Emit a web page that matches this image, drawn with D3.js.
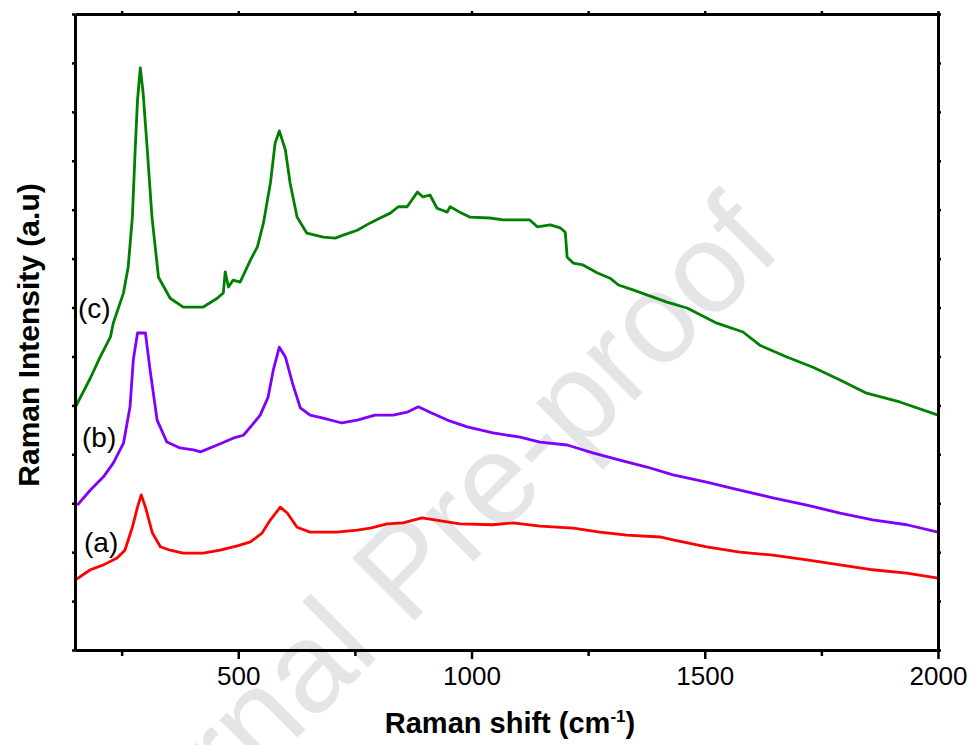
<!DOCTYPE html>
<html>
<head>
<meta charset="utf-8">
<script src="https://cdn.jsdelivr.net/npm/d3@7"></script>
<style>
  body { margin: 0; background: #fff; }
  text { font-family: "Liberation Sans", Arial, sans-serif; }
</style>
</head>
<body>
<div class="graphic"></div>
<script>
// Raman shift (cm-1) and intensity (a.u.)
const shiftA = [150,183,211,240,257,273,284,292,301,316,333,354,382,425,461,498,526,551,569,590,605,626,654,711,755,783,819,853,894,948,975,1046,1089,1147,1218,1275,1333,1404,1432,1504,1575,1646,1719,1790,1860,1933,2000];
const intA   = [143,164,174,188,204,251,292,317,292,239,211,204,198,198,204,213,221,239,266,292,280,251,241,241,245,249,258,260,270,262,258,256,260,253,249,241,235,231,225,211,200,194,184,174,164,157,147];

const shiftB = [155,183,211,232,254,268,275,284,301,311,326,347,375,404,419,455,489,511,530,547,564,575,588,601,616,633,654,682,722,755,793,832,862,886,911,948,991,1046,1104,1147,1205,1260,1318,1376,1432,1504,1575,1646,1719,1790,1860,1933,2000];
const intB   = [296,327,354,382,423,497,593,648,648,572,470,425,413,409,405,419,433,439,460,480,517,572,619,599,546,495,480,474,464,470,480,480,486,497,486,470,456,444,435,425,419,403,388,374,358,343,327,311,296,280,266,256,241];

const shiftC = [150,183,204,226,232,254,264,273,279,284,290,296,305,315,329,354,382,425,455,468,472,479,489,504,526,541,554,569,579,588,601,611,626,647,682,708,725,755,783,804,826,843,862,884,896,911,926,948,954,975,996,1039,1068,1104,1125,1141,1169,1190,1201,1205,1218,1239,1269,1297,1315,1346,1419,1462,1526,1582,1618,1676,1732,1790,1847,1918,2000];
const intC   = [495,556,599,640,668,730,783,885,1022,1124,1190,1139,1022,885,762,719,701,701,719,730,773,742,756,752,797,824,873,955,1036,1061,1022,955,885,852,844,842,848,858,873,883,893,906,906,936,926,930,903,895,906,895,885,883,879,879,879,865,869,863,854,803,791,787,771,760,746,736,711,699,668,650,623,599,578,552,525,507,480];

const xTicks = [500, 1000, 1500, 2000];
const xMinor = [250, 750, 1250, 1750];
const yTicks = d3.range(0, 1301, 100);

const seriesNames = ["(a)", "(b)", "(c)"];
const seriesColors = ["#ff0000", "#8000ff", "#008000"];

const width = 970, height = 745;
const svg = d3.select(".graphic").append("svg")
  .attr("width", width).attr("height", height);

const x = d3.scaleLinear().domain([150, 2000]).range([75, 938]);
const y = d3.scaleLinear().domain([0, 1300]).range([650, 14]);

// watermark
svg.append("text")
  .attr("transform", "translate(85,950) rotate(-45)")
  .attr("font-size", 128)
  .attr("fill", "#e4e5e7")
  .text("Journal Pre-proof");

// curves
const line = d3.line().x(d => d[0]).y(d => d[1]);
const series = [
  d3.zip(shiftA, intA),
  d3.zip(shiftB, intB),
  d3.zip(shiftC, intC)
];
series.forEach((s, i) => {
  svg.append("path")
    .attr("d", line(s.map(p => [x(p[0]), y(p[1])])))
    .attr("fill", "none")
    .attr("stroke", seriesColors[i])
    .attr("stroke-width", 2.8)
    .attr("stroke-linejoin", "round");
});

// series labels
const labelPos = [[84, 552], [82, 447], [78, 318]];
seriesNames.forEach((n, i) => {
  svg.append("text")
    .attr("x", labelPos[i][0]).attr("y", labelPos[i][1])
    .attr("font-size", 28)
    .attr("fill", "#000")
    .text(n);
});

// axes
const axStroke = g => {
  g.select(".domain").attr("stroke-width", 3);
  g.selectAll(".tick line").attr("stroke-width", 2.5);
};

svg.append("g").attr("transform", "translate(0,650)")
  .call(d3.axisBottom(x).tickValues(xTicks).tickFormat(d3.format("d")).tickSize(9).tickSizeOuter(0).tickPadding(8))
  .call(axStroke)
  .call(g => g.selectAll("text").attr("font-size", 26).attr("font-family", "Liberation Sans, Arial, sans-serif"));
svg.append("g").attr("transform", "translate(0,650)")
  .call(d3.axisBottom(x).tickValues(xMinor).tickSize(6).tickSizeOuter(0).tickFormat(""))
  .call(axStroke);

svg.append("g").attr("transform", "translate(0,14)")
  .call(d3.axisTop(x).tickValues(xTicks.concat(xMinor)).tickSize(3).tickSizeOuter(0).tickFormat(""))
  .call(axStroke);

svg.append("g").attr("transform", "translate(75,0)")
  .call(d3.axisLeft(y).tickValues(yTicks).tickSize(3).tickSizeOuter(0).tickFormat(""))
  .call(axStroke);
svg.append("g").attr("transform", "translate(938,0)")
  .call(d3.axisRight(y).tickValues(yTicks).tickSize(3).tickSizeOuter(0).tickFormat(""))
  .call(axStroke);

// axis titles
const xt = svg.append("text")
  .attr("x", 510).attr("y", 733)
  .attr("text-anchor", "middle")
  .attr("font-size", 29).attr("font-weight", "bold");
xt.append("tspan").text("Raman shift (cm");
xt.append("tspan").attr("font-size", 17).attr("dy", -11).text("-1");
xt.append("tspan").attr("dy", 11).text(")");

svg.append("text")
  .attr("transform", "translate(39,335) rotate(-90)")
  .attr("text-anchor", "middle")
  .attr("font-size", 30).attr("font-weight", "bold")
  .text("Raman Intensity (a.u)");
</script>
</body>
</html>
